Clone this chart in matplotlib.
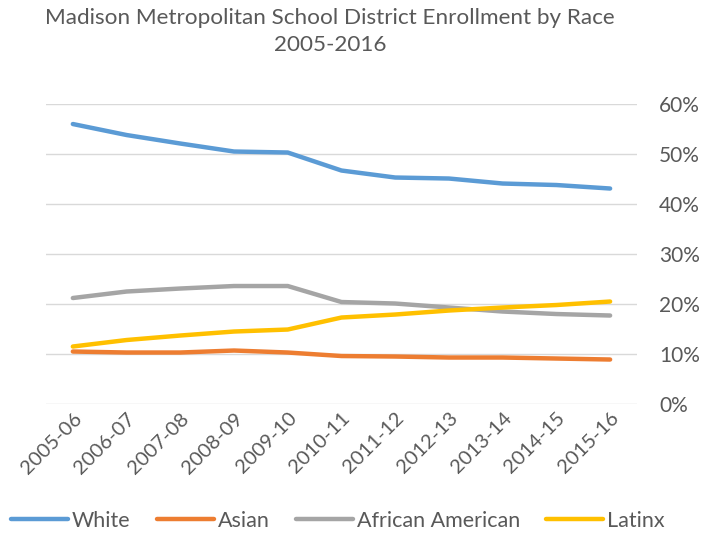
import matplotlib.pyplot as plt
from matplotlib.ticker import PercentFormatter

years = ["2005-06", "2006-07", "2007-08", "2008-09", "2009-10", "2010-11",
         "2011-12", "2012-13", "2013-14", "2014-15", "2015-16"]
white = [56.0, 53.8, 52.1, 50.5, 50.3, 46.7, 45.3, 45.1, 44.1, 43.8, 43.1]
asian = [10.5, 10.3, 10.3, 10.7, 10.3, 9.6, 9.5, 9.3, 9.3, 9.1, 8.9]
african_american = [21.2, 22.5, 23.1, 23.6, 23.6, 20.4, 20.1, 19.3, 18.5, 18.0, 17.7]
latinx = [11.5, 12.8, 13.7, 14.5, 14.9, 17.3, 17.9, 18.7, 19.3, 19.8, 20.5]

plt.rcParams['font.family'] = ['Lato', 'DejaVu Sans']
text_col = "#595959"

fig = plt.figure(figsize=(7.04, 5.34), dpi=100)
ax = fig.add_axes([0.0653, 0.2434, 0.8395, 0.5618])

x = range(len(years))
series = [("White", white, "#5B9BD5"),
          ("Asian", asian, "#ED7D31"),
          ("African American", african_american, "#A5A5A5"),
          ("Latinx", latinx, "#FFC000")]
for name, vals, col in series:
    ax.plot(x, vals, color=col, lw=3.2, solid_capstyle="round", label=name)

ax.set_xlim(-0.5, len(years) - 0.5)
ax.set_ylim(0, 60)
ax.set_yticks(range(0, 61, 10))
ax.yaxis.set_major_formatter(PercentFormatter(decimals=0))
ax.yaxis.tick_right()
ax.grid(axis="y", color="#D9D9D9", lw=1)
ax.set_axisbelow(True)
for s in ax.spines.values():
    s.set_visible(False)
ax.tick_params(length=0, labelcolor=text_col)
ax.tick_params(axis="y", pad=16, labelsize=15)
ax.tick_params(axis="x", pad=4, labelsize=14.5)
ax.set_xticks(list(x))
ax.set_xticklabels(years, rotation=45, ha="right", rotation_mode="anchor")

fig.suptitle("Madison Metropolitan School District Enrollment by Race\n2005-2016",
             x=0.469, y=0.985, fontsize=16.2, color=text_col, linespacing=1.45)

leg = fig.legend(loc="lower center", bbox_to_anchor=(0.48, -0.03), ncol=4,
                 frameon=False, handlelength=2.65, handletextpad=0.2,
                 columnspacing=1.2, fontsize=15.5)
for t in leg.get_texts():
    t.set_color(text_col)

fig.savefig("out.png", dpi=100)
